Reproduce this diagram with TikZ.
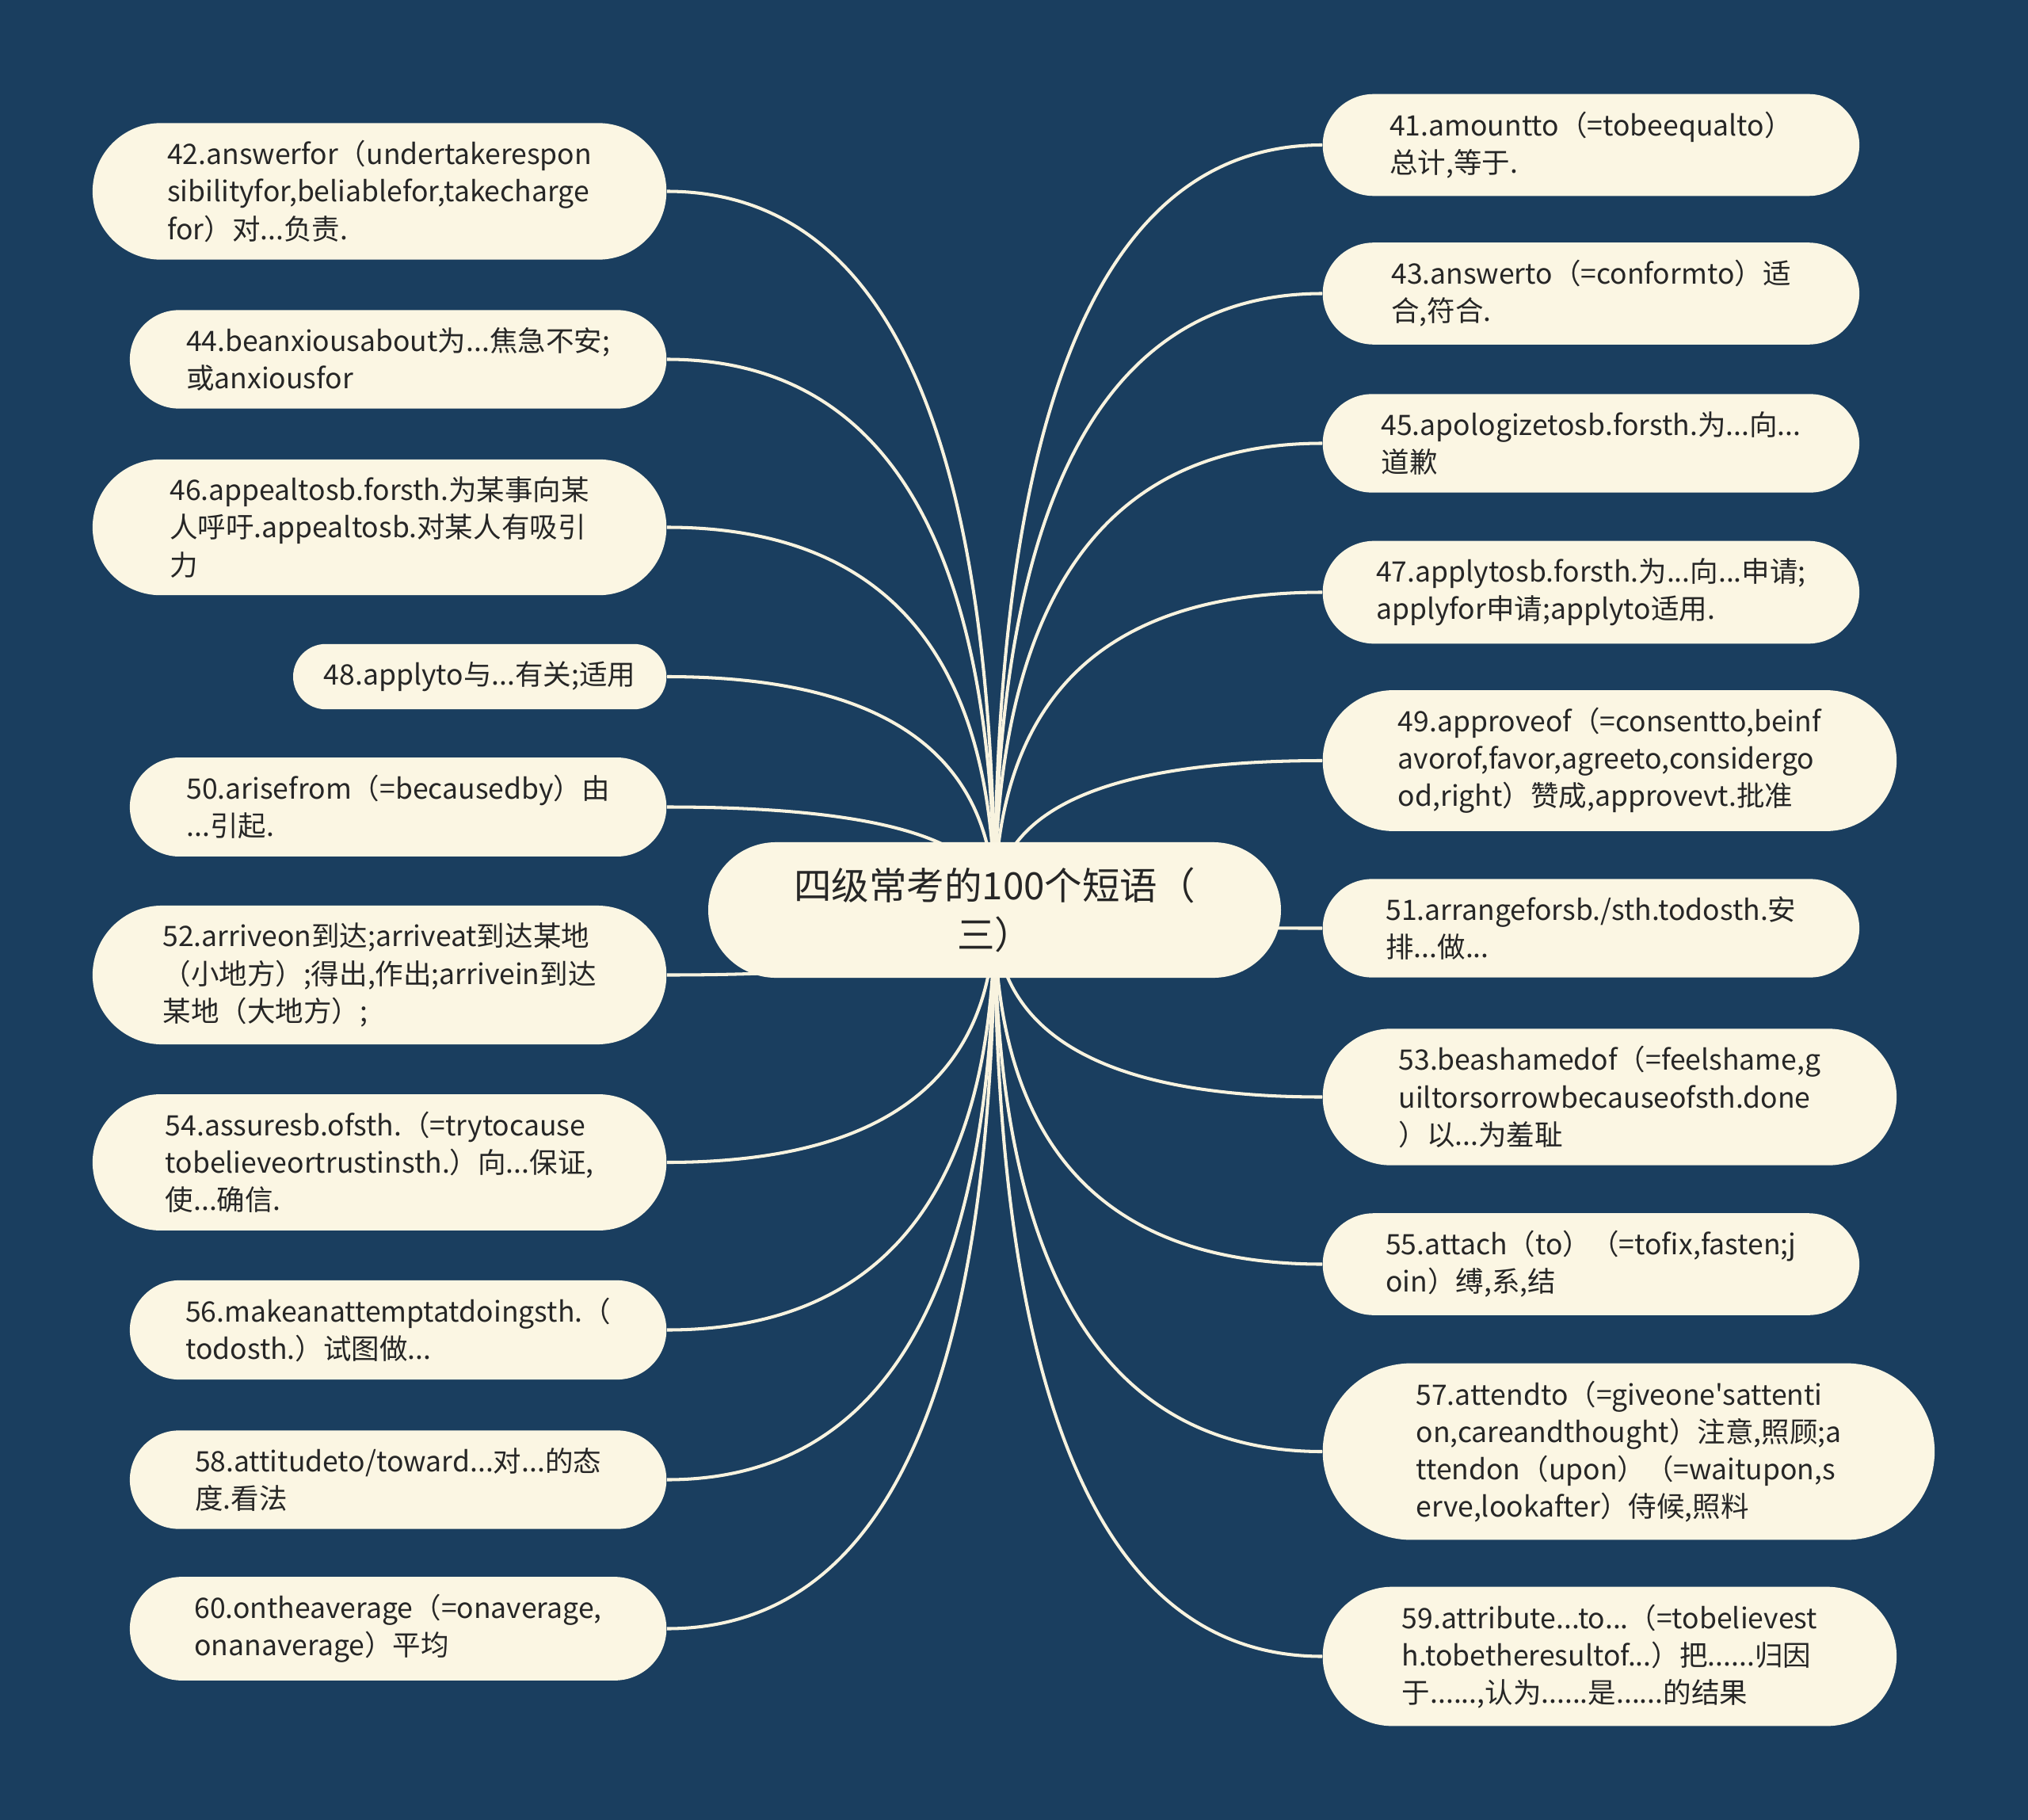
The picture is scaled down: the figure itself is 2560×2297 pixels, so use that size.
\documentclass[tikz,border=0pt]{standalone}
\usepackage{fontspec}
\newfontfamily\cjk{Noto Sans CJK SC}
\usetikzlibrary{shapes.misc,calc}
\definecolor{bgblue}{HTML}{1A3E5F}
\definecolor{cream}{HTML}{FBF6E3}
\definecolor{inkgray}{HTML}{262626}
\definecolor{wire}{HTML}{F8F3DF}
\pgfdeclarelayer{back}
\pgfdeclarelayer{wires}
\pgfsetlayers{back,wires,main}
\begin{document}
\begin{tikzpicture}[x=0.01cm, y=-0.01cm,
		leaf/.style={rounded rectangle, fill=cream, text=inkgray, align=left, inner xsep=0pt, inner ysep=6.3pt,
			font=\cjk\fontsize{10.1pt}{13.4pt}\selectfont},
		root/.style={rounded rectangle, fill=cream, text=inkgray, align=center, minimum width=7.46cm, minimum height=1.71cm,
			font=\cjk\fontsize{13.5pt}{17.6pt}\selectfont},
		branch/.style={draw=wire, line width=1.15pt,
			to path={.. controls ($(\tikztostart)!0.667!(\tikztostart |- \tikztotarget)$) and ($(\tikztotarget)!0.667!(\tikztostart |- \tikztotarget)$) .. (\tikztotarget)}}]

		\begin{pgfonlayer}{back}
			\fill[bgblue] (0,0) rectangle (2560,2297);
		\end{pgfonlayer}

		\node[root] (root) at (1255.5,1148.5) {四级常考的100个短语（\\三）};

		% left side
		\node[leaf, minimum width=7.24cm, anchor=east] (l42) at (842,241.5) {42.answerfor（undertakerespon\\sibilityfor,beliablefor,takecharge\\for）对...负责.};
		\node[leaf, minimum width=6.77cm, anchor=east] (l44) at (842,453.5) {44.beanxiousabout为...焦急不安;\\或anxiousfor};
		\node[leaf, minimum width=7.24cm, anchor=east] (l46) at (842,665.5) {46.appealtosb.forsth.为某事向某\\人呼吁.appealtosb.对某人有吸引\\力};
		\node[leaf, minimum width=4.71cm, anchor=east] (l48) at (842,854) {48.applyto与...有关;适用};
		\node[leaf, minimum width=6.77cm, anchor=east] (l50) at (842,1018.5) {50.arisefrom（=becausedby）由\\...引起.};
		\node[leaf, minimum width=7.24cm, anchor=east] (l52) at (842,1230.5) {52.arriveon到达;arriveat到达某地\\（小地方）;得出,作出;arrivein到达\\某地（大地方）;};
		\node[leaf, minimum width=7.24cm, anchor=east] (l54) at (842,1467) {54.assuresb.ofsth.（=trytocause\\tobelieveortrustinsth.）向...保证,\\使...确信.};
		\node[leaf, minimum width=6.77cm, anchor=east] (l56) at (842,1678.5) {56.makeanattemptatdoingsth.（\\todosth.）试图做...};
		\node[leaf, minimum width=6.77cm, anchor=east] (l58) at (842,1867.5) {58.attitudeto/toward...对...的态\\度.看法};
		\node[leaf, minimum width=6.77cm, anchor=east] (l60) at (842,2055.5) {60.ontheaverage（=onaverage,\\onanaverage）平均};

		% right side
		\node[leaf, minimum width=6.77cm, anchor=west] (l41) at (1669,183) {41.amountto（=tobeequalto）\\总计,等于.};
		\node[leaf, minimum width=6.77cm, anchor=west] (l43) at (1669,370.5) {43.answerto（=conformto）适\\合,符合.};
		\node[leaf, minimum width=6.77cm, anchor=west] (l45) at (1669,559.5) {45.apologizetosb.forsth.为...向...\\道歉};
		\node[leaf, minimum width=6.77cm, anchor=west] (l47) at (1669,747.5) {47.applytosb.forsth.为...向...申请;\\applyfor申请;applyto适用.};
		\node[leaf, minimum width=7.24cm, anchor=west] (l49) at (1669,960) {49.approveof（=consentto,beinf\\avorof,favor,agreeto,considergo\\od,right）赞成,approvevt.批准};
		\node[leaf, minimum width=6.77cm, anchor=west] (l51) at (1669,1171.5) {51.arrangeforsb./sth.todosth.安\\排...做...};
		\node[leaf, minimum width=7.24cm, anchor=west] (l53) at (1669,1384.5) {53.beashamedof（=feelshame,g\\uiltorsorrowbecauseofsth.done\\）以...为羞耻};
		\node[leaf, minimum width=6.77cm, anchor=west] (l55) at (1669,1595.5) {55.attach（to）（=tofix,fasten;j\\oin）缚,系,结};
		\node[leaf, minimum width=7.72cm, anchor=west] (l57) at (1669,1832) {57.attendto（=giveone'sattenti\\on,careandthought）注意,照顾;a\\ttendon（upon）（=waitupon,s\\erve,lookafter）侍候,照料};
		\node[leaf, minimum width=7.24cm, anchor=west] (l59) at (1669,2090.5) {59.attribute...to...（=tobelievest\\h.tobetheresultof...）把......归因\\于......,认为......是......的结果};

		\begin{pgfonlayer}{wires}
			\draw[branch] (root.center) to (l42.east);
			\draw[branch] (root.center) to (l44.east);
			\draw[branch] (root.center) to (l46.east);
			\draw[branch] (root.center) to (l48.east);
			\draw[branch] (root.center) to (l50.east);
			\draw[branch] (root.center) to (l52.east);
			\draw[branch] (root.center) to (l54.east);
			\draw[branch] (root.center) to (l56.east);
			\draw[branch] (root.center) to (l58.east);
			\draw[branch] (root.center) to (l60.east);
			\draw[branch] (root.center) to (l41.west);
			\draw[branch] (root.center) to (l43.west);
			\draw[branch] (root.center) to (l45.west);
			\draw[branch] (root.center) to (l47.west);
			\draw[branch] (root.center) to (l49.west);
			\draw[branch] (root.center) to (l51.west);
			\draw[branch] (root.center) to (l53.west);
			\draw[branch] (root.center) to (l55.west);
			\draw[branch] (root.center) to (l57.west);
			\draw[branch] (root.center) to (l59.west);
		\end{pgfonlayer}
	\end{tikzpicture}
\end{document}
